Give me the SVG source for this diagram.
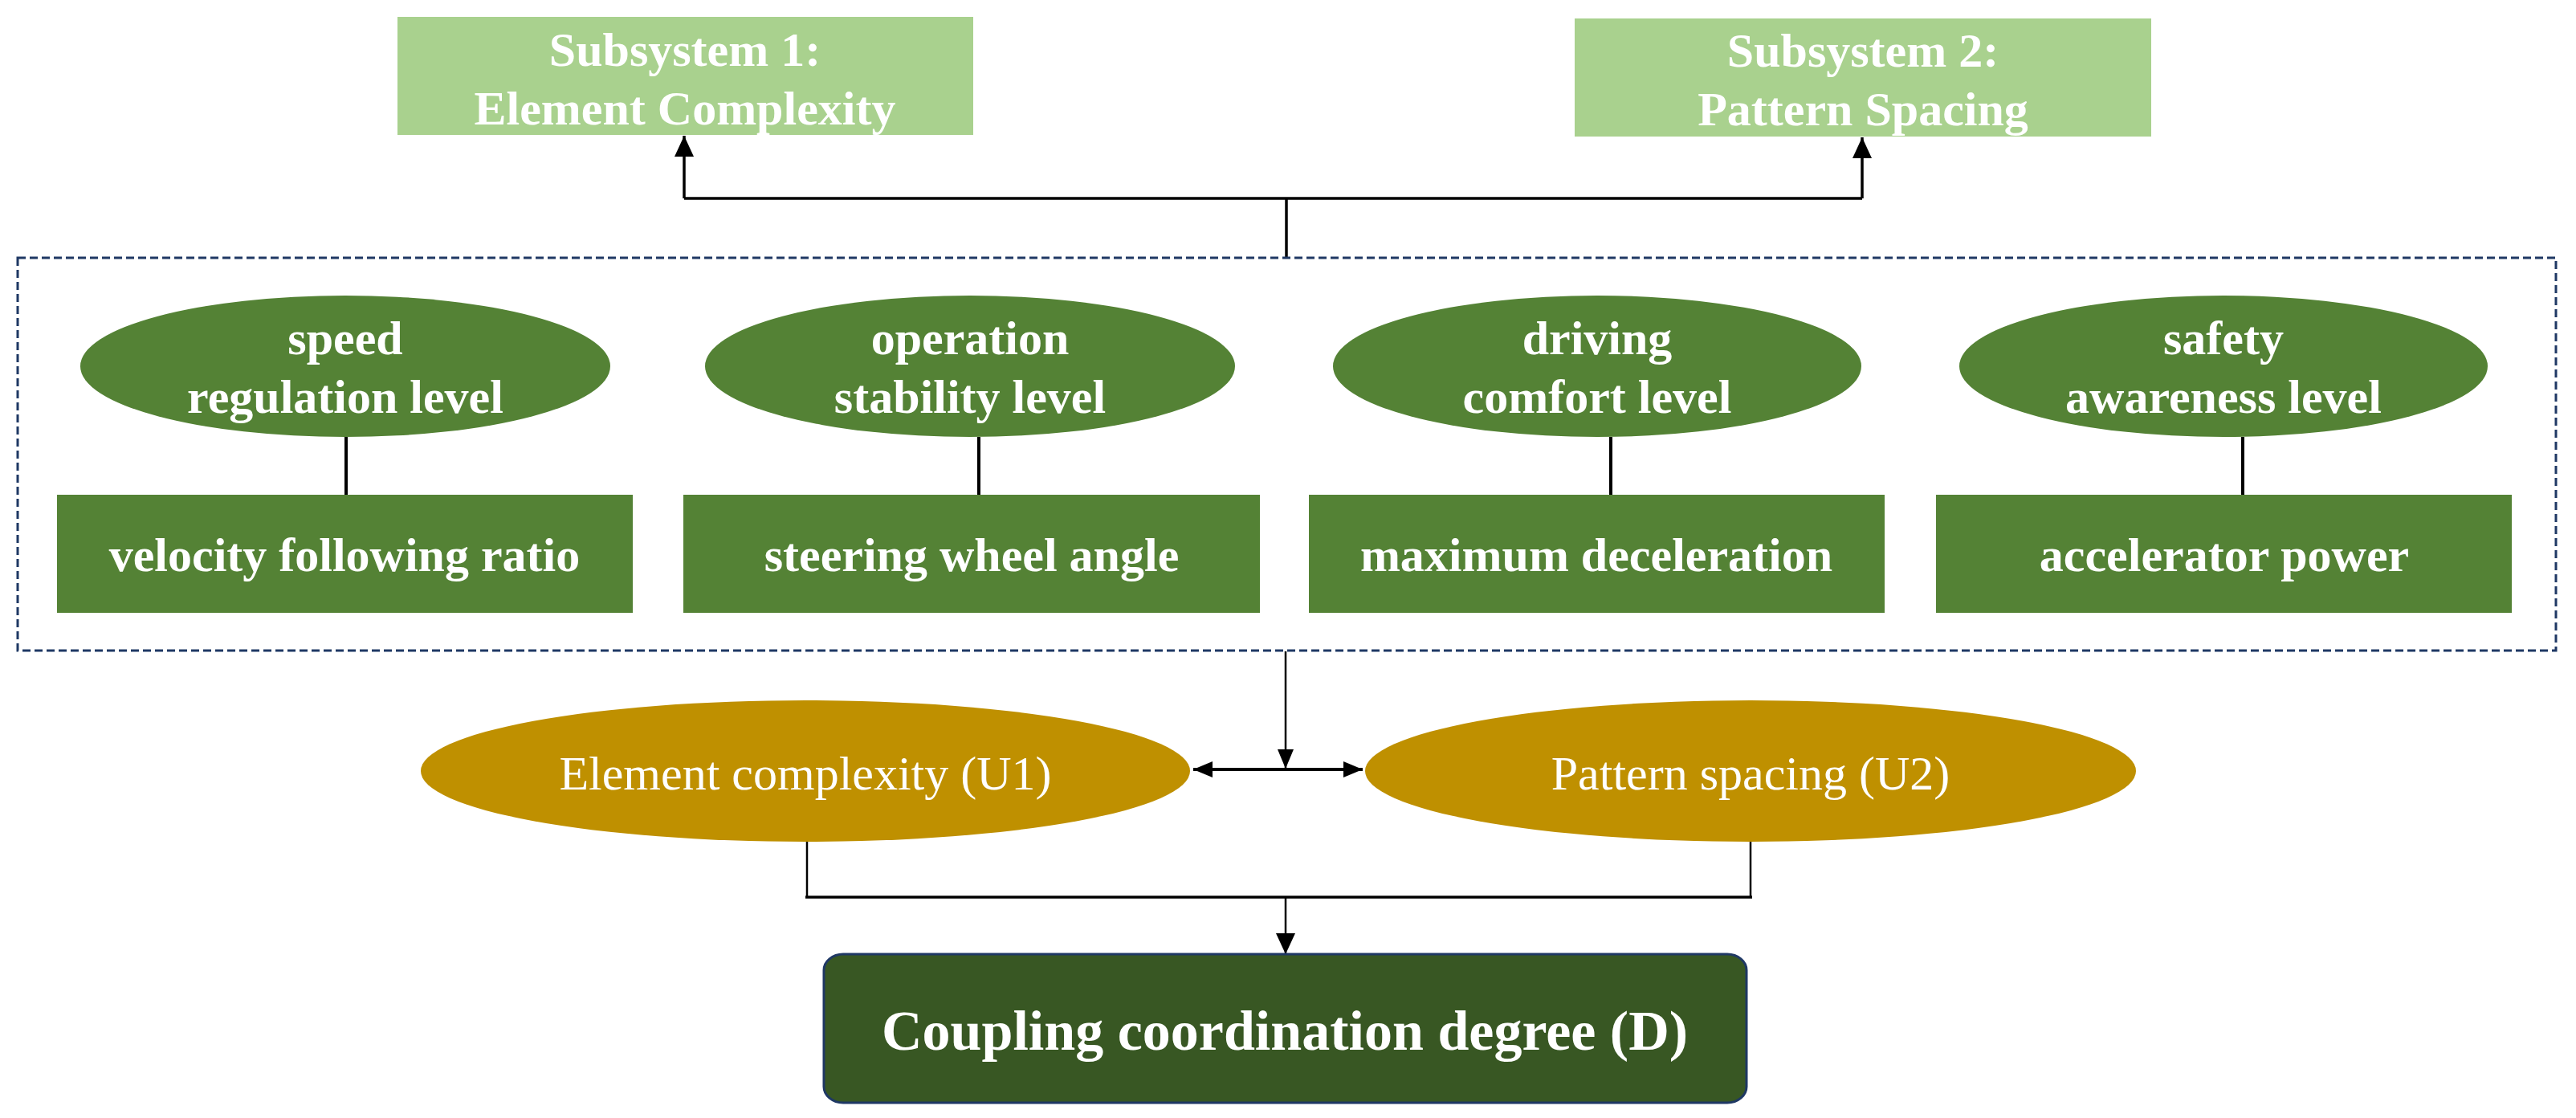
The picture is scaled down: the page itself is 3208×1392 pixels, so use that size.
<svg xmlns="http://www.w3.org/2000/svg" width="3208" height="1392" viewBox="0 0 3208 1392">
<defs>
<style>
.t{font-family:"Liberation Serif","Times New Roman",serif;fill:#fff;text-anchor:middle}
.b{font-weight:bold;font-size:60px}
.r{font-weight:normal;font-size:60px}
.sub{fill:#A9D18E}
.ind{fill:#548235}
.gold{fill:#BF9000}
.ln{stroke:#000;fill:none;stroke-linecap:butt}
</style>
<marker id="ah" markerUnits="userSpaceOnUse" viewBox="0 0 26 24" refX="26" refY="12" markerWidth="26" markerHeight="24" orient="auto">
<path d="M0,0 L26,12 L0,24 z" fill="#000"/>
</marker>
<marker id="ahs" markerUnits="userSpaceOnUse" viewBox="0 0 24 20" refX="24" refY="10" markerWidth="24" markerHeight="20" orient="auto-start-reverse">
<path d="M0,0 L24,10 L0,20 z" fill="#000"/>
</marker>
</defs>
<rect width="3208" height="1392" fill="#fff"/>

<g id="connectors">
<path class="ln" stroke-width="3.5" d="M1602,322 V247"/>
<path class="ln" stroke-width="3.5" d="M852,247 H2319"/>
<path class="ln" stroke-width="3.5" d="M852,247 V169" marker-end="url(#ah)"/>
<path class="ln" stroke-width="3.5" d="M2319,247 V171" marker-end="url(#ah)"/>
<path class="ln" stroke-width="4" d="M431,544 V616"/>
<path class="ln" stroke-width="4" d="M1219,544 V616"/>
<path class="ln" stroke-width="4" d="M2006,544 V616"/>
<path class="ln" stroke-width="4" d="M2793,544 V616"/>
<path class="ln" stroke-width="2.5" d="M1601,811 V957" marker-end="url(#ahs)"/>
<path class="ln" stroke-width="4" d="M1486,958 H1697" marker-start="url(#ahs)" marker-end="url(#ahs)"/>
<path class="ln" stroke-width="2.5" d="M1005,1047 V1117"/>
<path class="ln" stroke-width="2.5" d="M2180,1047 V1117"/>
<path class="ln" stroke-width="3.5" d="M1003,1117 H2182"/>
<path class="ln" stroke-width="2.5" d="M1601,1117 V1188" marker-end="url(#ah)"/>
</g>

<g id="group-box">
<rect x="22" y="321" width="3161" height="489" fill="none" stroke="#1F3864" stroke-width="3" stroke-dasharray="10 5"/>
</g>

<g id="sub1">
<rect class="sub" x="495" y="21" width="717" height="147"/>
<text class="t b" x="853" y="82">Subsystem 1:</text>
<text class="t b" x="853" y="155">Element Complexity</text>
</g>
<g id="sub2">
<rect class="sub" x="1961" y="23" width="718" height="147"/>
<text class="t b" x="2320" y="83">Subsystem 2:</text>
<text class="t b" x="2320" y="156">Pattern Spacing</text>
</g>

<g id="e1">
<ellipse class="ind" cx="430" cy="456" rx="330" ry="88"/>
<text class="t b" x="430" y="441">speed</text>
<text class="t b" x="430" y="514">regulation level</text>
</g>
<g id="e2">
<ellipse class="ind" cx="1208" cy="456" rx="330" ry="88"/>
<text class="t b" x="1208" y="441">operation</text>
<text class="t b" x="1208" y="514">stability level</text>
</g>
<g id="e3">
<ellipse class="ind" cx="1989" cy="456" rx="329" ry="88"/>
<text class="t b" x="1989" y="441">driving</text>
<text class="t b" x="1989" y="514">comfort level</text>
</g>
<g id="e4">
<ellipse class="ind" cx="2769" cy="456" rx="329" ry="88"/>
<text class="t b" x="2769" y="441">safety</text>
<text class="t b" x="2769" y="514">awareness level</text>
</g>

<g id="r1">
<rect class="ind" x="71" y="616" width="717" height="147"/>
<text class="t b" x="429" y="711">velocity following ratio</text>
</g>
<g id="r2">
<rect class="ind" x="851" y="616" width="718" height="147"/>
<text class="t b" x="1210" y="711">steering wheel angle</text>
</g>
<g id="r3">
<rect class="ind" x="1630" y="616" width="717" height="147"/>
<text class="t b" x="1988" y="711">maximum deceleration</text>
</g>
<g id="r4">
<rect class="ind" x="2411" y="616" width="717" height="147"/>
<text class="t b" x="2770" y="711">accelerator power</text>
</g>

<g id="u1">
<ellipse class="gold" cx="1003" cy="960" rx="479" ry="88"/>
<text class="t r" x="1003" y="983">Element complexity (U1)</text>
</g>
<g id="u2">
<ellipse class="gold" cx="2180" cy="960" rx="480" ry="88"/>
<text class="t r" x="2180" y="983">Pattern spacing (U2)</text>
</g>

<g id="d">
<rect x="1026" y="1188" width="1149" height="185" rx="24" ry="20" fill="#385723" stroke="#1F3864" stroke-width="3"/>
<text class="t" x="1600" y="1307" font-weight="bold" font-size="70">Coupling coordination degree (D)</text>
</g>
</svg>
